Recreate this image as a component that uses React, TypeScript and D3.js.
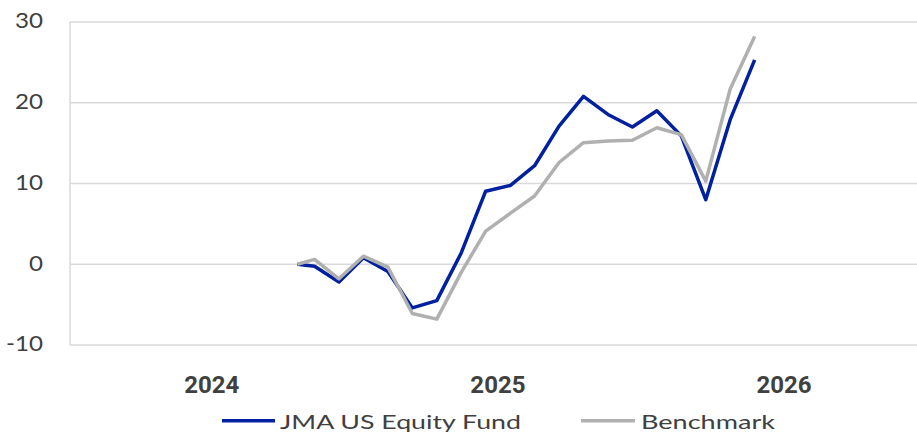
import React from "react";
import * as d3 from "d3";

// months counted from the start of 2024 (first point is the inception date)
const monthOffset = [3.3, 4, 5, 6, 7, 8, 9, 10, 11, 12, 13, 14, 15, 16, 17, 18, 19, 20, 21, 22];

const fundReturn = [
  0, -0.25, -2.2, 0.8, -0.9, -5.4, -4.5, 1.4, 9.05, 9.75, 12.2, 17.1, 20.8, 18.55, 17.0,
  19.0, 15.9, 8.0, 17.9, 25.3,
];

const benchmarkReturn = [
  0, 0.6, -1.8, 1.0, -0.35, -6.1, -6.8, -1.0, 4.1, 6.3, 8.45, 12.6, 15.05, 15.25, 15.35,
  16.9, 16.05, 10.3, 21.7, 28.2,
];

const yearLabels = ["2024", "2025", "2026"];
const yearLabelAt = [-0.2, 11.5, 23.2];

const yTicks = [-10, 0, 10, 20, 30];

const W = 917;
const H = 434;
const margin = { top: 22, right: 0, bottom: 89, left: 70 };

const FUND = "#00209f";
const BENCH = "#b0b0b0";
const GRID = "#d9d9d9";
const TEXT = "#404040";

export default function App() {
  const x = d3
    .scaleLinear()
    .domain([-6, 28.64])
    .range([margin.left, W - margin.right]);

  const y = d3
    .scaleLinear()
    .domain([-10, 30])
    .range([H - margin.bottom, margin.top]);

  const line = d3
    .line<number>()
    .x((_, i) => x(monthOffset[i]))
    .y((d) => y(d));

  return (
    <div style={{ position: "absolute", left: 0, top: 0 }}>
      <svg width={W} height={H} style={{ display: "block", background: "#fff" }}>
        {/* grid */}
        {yTicks.map((t) => (
          <line
            key={t}
            x1={margin.left}
            x2={W - margin.right}
            y1={y(t)}
            y2={y(t)}
            stroke={GRID}
            strokeWidth={1.5}
          />
        ))}
        <line
          x1={margin.left}
          x2={margin.left}
          y1={y(30)}
          y2={y(-10)}
          stroke={GRID}
          strokeWidth={1.5}
        />

        {/* y labels - the source font is wider than Lato, so stretch a bit */}
        {yTicks.map((t) => (
          <text
            key={t}
            transform={`translate(43,${y(t) + 1}) scale(1.15,1)`}
            textAnchor="end"
            dominantBaseline="middle"
            fontFamily="Lato, sans-serif"
            fontSize={21}
            fill={TEXT}
          >
            {t}
          </text>
        ))}

        {/* year labels */}
        {yearLabels.map((l, i) => (
          <text
            key={l}
            x={x(yearLabelAt[i])}
            y={393}
            textAnchor="middle"
            fontFamily="Roboto, sans-serif"
            fontWeight={700}
            fontSize={24}
            fill={TEXT}
          >
            {l}
          </text>
        ))}

        {/* series */}
        <path
          d={line(fundReturn) || ""}
          fill="none"
          stroke={FUND}
          strokeWidth={3.5}
          strokeLinejoin="round"
        />
        <path
          d={line(benchmarkReturn) || ""}
          fill="none"
          stroke={BENCH}
          strokeWidth={3.5}
          strokeLinejoin="round"
        />

        {/* legend */}
        <line x1={222} x2={275} y1={420.7} y2={420.7} stroke={FUND} strokeWidth={3.5} />
        <text
          x={280}
          y={428.5}
          fontFamily="Lato, sans-serif"
          fontSize={20}
          fill={TEXT}
          textLength={241}
          lengthAdjust="spacingAndGlyphs"
        >
          JMA US Equity Fund
        </text>
        <line x1={581} x2={635} y1={420.7} y2={420.7} stroke={BENCH} strokeWidth={3.5} />
        <text
          x={641}
          y={428.5}
          fontFamily="Lato, sans-serif"
          fontSize={20}
          fill={TEXT}
          textLength={134}
          lengthAdjust="spacingAndGlyphs"
        >
          Benchmark
        </text>
      </svg>
    </div>
  );
}
